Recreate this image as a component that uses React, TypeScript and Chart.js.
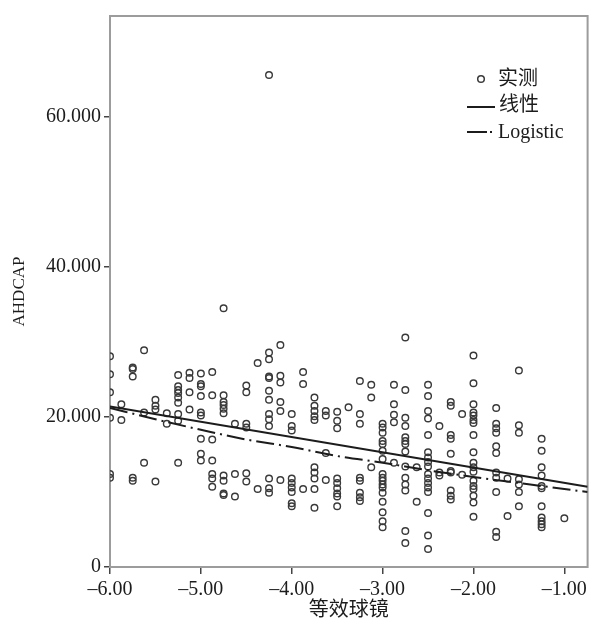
import React, { useEffect, useRef } from 'react';
import { Chart, registerables } from 'chart.js';

Chart.register(...registerables);

// ---- data ----
const sphereColumns = [
  -6.0, -5.875, -5.75, -5.625, -5.5, -5.375, -5.25, -5.125, -5.0, -4.875,
  -4.75, -4.625, -4.5, -4.375, -4.25, -4.125, -4.0, -3.875, -3.75, -3.625,
  -3.5, -3.375, -3.25, -3.125, -3.0, -2.875, -2.75, -2.625, -2.5, -2.375,
  -2.25, -2.125, -2.0, -1.75, -1.625, -1.5, -1.25, -1.0,
];

const ahdcapColumns: number[][] = [
  [28.1, 25.7, 23.3, 19.9, 12.4, 11.9],
  [21.7, 19.6],
  [26.6, 26.4, 25.4, 11.9, 11.5],
  [28.9, 20.6, 13.9],
  [22.3, 21.5, 21.0, 11.4],
  [20.5, 19.1],
  [25.6, 24.1, 23.6, 23.2, 22.6, 21.9, 20.4, 19.5, 13.9],
  [25.9, 25.2, 23.3, 21.0],
  [25.8, 24.4, 24.1, 22.8, 20.6, 20.2, 17.1, 15.1, 14.2],
  [26.0, 22.9, 17.0, 14.2, 12.4, 11.8, 10.7],
  [34.5, 22.9, 22.0, 21.6, 21.1, 20.5, 12.2, 11.5, 9.8, 9.6],
  [19.1, 12.4, 9.4],
  [24.2, 23.3, 19.1, 18.6, 12.5, 11.4],
  [27.2, 10.4],
  [65.6, 28.6, 27.7, 25.4, 25.2, 23.5, 22.3, 20.4, 19.7, 18.8, 11.8, 10.5, 9.9],
  [29.6, 25.5, 24.6, 22.0, 20.8, 11.6],
  [20.4, 18.8, 18.2, 11.8, 11.2, 10.6, 10.0, 8.5, 8.1],
  [26.0, 24.4, 10.4],
  [22.6, 21.5, 20.8, 20.1, 19.6, 13.3, 12.6, 11.8, 10.4, 7.9],
  [20.8, 20.2, 15.2, 11.6],
  [20.7, 19.5, 18.5, 11.8, 11.2, 10.5, 9.8, 9.4, 8.1],
  [21.3],
  [24.8, 20.4, 19.1, 11.9, 11.5, 9.9, 9.3, 8.8],
  [24.3, 22.6, 13.3],
  [19.1, 18.6, 17.9, 16.8, 16.4, 15.5, 14.4, 12.4, 11.9, 11.5, 11.0, 10.6, 9.9, 8.7, 7.3, 6.1, 5.3],
  [24.3, 21.7, 20.3, 19.3, 13.9],
  [30.6, 23.6, 19.9, 18.8, 17.3, 16.8, 16.4, 15.4, 13.4, 11.9, 11.0, 10.2, 4.8, 3.2],
  [13.3, 8.7],
  [24.3, 22.8, 20.8, 19.8, 17.6, 15.3, 14.6, 14.0, 13.4, 12.4, 11.8, 11.2, 10.6, 10.0, 7.2, 4.2, 2.4],
  [18.8, 12.6, 12.2],
  [22.0, 21.5, 17.6, 17.1, 15.1, 12.8, 12.6, 10.2, 9.5, 9.0],
  [20.4, 12.3],
  [28.2, 24.5, 21.7, 20.6, 20.2, 19.6, 19.2, 17.6, 15.3, 13.9, 13.3, 12.7, 11.5, 10.8, 10.4, 9.5, 8.6, 6.7],
  [21.2, 19.1, 18.5, 17.9, 16.1, 15.2, 12.6, 11.9, 10.0, 4.7, 4.0],
  [11.8, 6.8],
  [26.2, 18.9, 17.9, 11.7, 11.0, 10.0, 8.1],
  [17.1, 15.5, 13.3, 12.2, 10.8, 10.5, 8.1, 6.6, 6.1, 5.7, 5.3],
  [6.5],
];

const linearX = [-6.0, -0.744];
const linearY = [21.4, 10.7];

const logisticX = [-6.0, -5.5, -5.0, -4.5, -4.0, -3.5, -3.0, -2.5, -2.0, -1.5, -1.0, -0.744];
const logisticY = [21.2, 19.7, 18.3, 17.0, 16.0, 14.8, 13.9, 12.9, 12.0, 11.2, 10.4, 10.0];

const xTickValues = [-6, -5, -4, -3, -2, -1];
const yTickValues = [0, 20, 40, 60];

const seriesLabels = ['实测', '线性', 'Logistic'];
const xTitle = '等效球镜';
const yTitle = 'AHDCAP';

const X_MIN = -6;
const X_MAX = -0.744;
const Y_MIN = 0;
const Y_MAX = 73.47;

// ---- styles ----
const SERIF = '"Liberation Serif", "Times New Roman", "Noto Sans CJK SC", serif';
const INK = '#1c1c1c';
const POINT_INK = '#3a3a3a';
const FRAME = '#9c9c9c';

const framePlugin = {
  id: 'frameBox',
  beforeDatasetsDraw(chart: any) {
    const { ctx, chartArea } = chart;
    ctx.save();
    ctx.strokeStyle = FRAME;
    ctx.lineWidth = 2;
    ctx.strokeRect(chartArea.left, chartArea.top, chartArea.right - chartArea.left, chartArea.bottom - chartArea.top);
    ctx.restore();
  },
};

const legendPlugin = {
  id: 'insideLegend',
  afterDraw(chart: any) {
    const { ctx } = chart;
    const ds = chart.data.datasets;
    ctx.save();
    ctx.font = `20px ${SERIF}`;
    ctx.fillStyle = INK;
    ctx.textAlign = 'left';
    ctx.textBaseline = 'middle';

    // observed marker
    ctx.beginPath();
    ctx.arc(481, 79, 3.3, 0, Math.PI * 2);
    ctx.lineWidth = 1.5;
    ctx.strokeStyle = POINT_INK;
    ctx.stroke();
    ctx.fillText(ds[0].label, 498, 80);

    // linear
    ctx.beginPath();
    ctx.moveTo(467, 107);
    ctx.lineTo(495, 107);
    ctx.lineWidth = 2;
    ctx.strokeStyle = INK;
    ctx.stroke();
    ctx.fillText(ds[1].label, 499, 106);

    // logistic
    ctx.beginPath();
    ctx.setLineDash([20, 3, 2, 20]);
    ctx.moveTo(467, 132);
    ctx.lineTo(493, 132);
    ctx.stroke();
    ctx.setLineDash([]);
    ctx.fillText(ds[2].label, 498, 133);
    ctx.restore();
  },
};

export default function App() {
  const canvasRef = useRef<HTMLCanvasElement | null>(null);

  useEffect(() => {
    document.body.style.margin = '0';
    const canvas = canvasRef.current;
    if (!canvas) return;

    const observed: { x: number; y: number }[] = [];
    sphereColumns.forEach((sx, i) => {
      ahdcapColumns[i].forEach((v) => observed.push({ x: sx, y: v }));
    });
    const linearPts = linearX.map((x, i) => ({ x, y: linearY[i] }));
    const logisticPts = logisticX.map((x, i) => ({ x, y: logisticY[i] }));

    const chart = new Chart(canvas, {
      type: 'scatter',
      data: {
        datasets: [
          {
            label: seriesLabels[0],
            data: observed,
            pointRadius: 3.3,
            pointBorderWidth: 1.4,
            pointBackgroundColor: 'rgba(0,0,0,0)',
            pointBorderColor: POINT_INK,
            showLine: false,
            clip: 0,
            order: 3,
          } as any,
          {
            label: seriesLabels[1],
            data: linearPts,
            showLine: true,
            borderColor: INK,
            borderWidth: 2,
            pointRadius: 0,
            fill: false,
            clip: 0,
            order: 2,
          } as any,
          {
            label: seriesLabels[2],
            data: logisticPts,
            showLine: true,
            borderColor: INK,
            borderWidth: 2,
            borderDash: [18, 5, 2, 5],
            pointRadius: 0,
            cubicInterpolationMode: 'monotone',
            fill: false,
            clip: 0,
            order: 1,
          } as any,
        ],
      },
      options: {
        responsive: false,
        animation: false,
        events: [],
        layout: { padding: { top: 16, right: 1, left: 0, bottom: 0 } },
        plugins: {
          legend: { display: false },
          tooltip: { enabled: false },
        },
        scales: {
          x: {
            type: 'linear',
            min: X_MIN,
            max: X_MAX,
            afterBuildTicks: (scale: any) => {
              scale.ticks = xTickValues.map((v) => ({ value: v }));
            },
            afterFit: (scale: any) => {
              scale.height = 57;
            },
            grid: {
              display: true,
              drawOnChartArea: false,
              drawTicks: true,
              tickLength: 7,
              color: '#444',
              lineWidth: 1.5,
            },
            border: { display: false },
            ticks: {
              font: { family: SERIF, size: 20 },
              color: INK,
              padding: 4,
              maxRotation: 0,
              autoSkip: false,
              callback: (v: any) => (Number(v) < 0 ? '–' : '') + Math.abs(Number(v)).toFixed(2),
            },
            title: {
              display: true,
              text: xTitle,
              font: { family: SERIF, size: 20 },
              color: INK,
              padding: { top: 0, bottom: 1 },
            },
          },
          y: {
            type: 'linear',
            min: Y_MIN,
            max: Y_MAX,
            afterBuildTicks: (scale: any) => {
              scale.ticks = yTickValues.map((v) => ({ value: v }));
            },
            afterFit: (scale: any) => {
              scale.width = 110;
            },
            grid: {
              display: true,
              drawOnChartArea: false,
              drawTicks: true,
              tickLength: 6,
              color: '#444',
              lineWidth: 1.5,
            },
            border: { display: false },
            ticks: {
              font: { family: SERIF, size: 20 },
              color: INK,
              padding: 3,
              autoSkip: false,
              callback: (v: any) => (Number(v) === 0 ? '0' : Number(v).toFixed(3)),
            },
            title: {
              display: true,
              text: yTitle,
              font: { family: SERIF, size: 17 },
              color: INK,
              padding: { top: 9, bottom: 0 },
            },
          },
        },
      } as any,
      plugins: [framePlugin, legendPlugin],
    });

    return () => chart.destroy();
  }, []);

  return (
    <div style={{ position: 'absolute', left: 0, top: 0, width: 593, height: 624, background: '#fff' }}>
      <canvas ref={canvasRef} width={593} height={624} style={{ display: 'block', width: 593, height: 624 }} />
    </div>
  );
}
